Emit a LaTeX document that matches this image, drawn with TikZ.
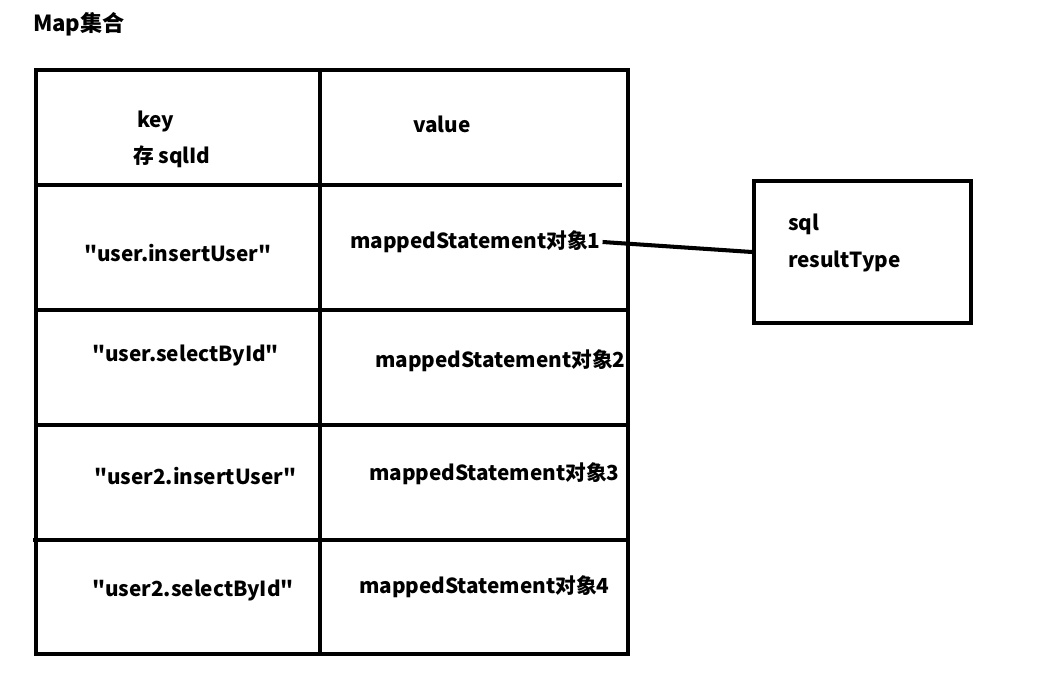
\documentclass[tikz,border=0pt]{standalone}
\usepackage{fontspec}
\setmainfont{Noto Sans CJK SC}[Ligatures=TeXOff]
\usepackage{tikz}
\usetikzlibrary{calc}

\begin{document}
\begin{tikzpicture}[x=0.02cm, y=-0.02cm,
    line width=2.3pt,
    txt/.style={font=\bfseries\fontsize{11.8}{14}\selectfont, inner sep=0pt, anchor=west}]
    % Fix the page size
    \useasboundingbox (0,0) rectangle (1063,675);

    % Define table parameters
    \pgfmathsetmacro{\xl}{36}    % left edge
    \pgfmathsetmacro{\xm}{320}   % column divider
    \pgfmathsetmacro{\xr}{628}   % right edge

    % Title
    \node[txt, font=\bfseries\fontsize{12.6}{15}\selectfont] (title) at (31,24) {Map集合};

    % Draw table frame and rows
    \draw (\xl,70) rectangle (\xr,654);
    \draw (\xm,70) -- (\xm,654);
    \draw (\xl,185) -- (622,185);
    \foreach \y in {310,425} {
        \draw (\xl,\y) -- (\xr,\y);
    }
    \draw (33,540) -- (\xr,540);

    % Header cells
    \node[txt] (key) at (135,121) {key};
    \node[txt] (keynote) at (131,157) {存 sqlId};
    \node[txt] (value) at (411,124) {value};

    % Key cells
    \node[txt] (k1) at (82,253) {"user.insertUser"};
    \node[txt] (k2) at (90,355) {"user.selectById"};
    \node[txt] (k3) at (92,476) {"user2.insertUser"};
    \node[txt] (k4) at (90,590) {"user2.selectById"};

    % Value cells
    \node[txt] (m1) at (348,242) {mappedStatement对象1};
    \node[txt] (m2) at (373,361) {mappedStatement对象2};
    \node[txt] (m3) at (367,474) {mappedStatement对象3};
    \node[txt] (m4) at (357,587) {mappedStatement对象4};

    % Object box
    \node[draw, minimum width=217*0.02cm, minimum height=142*0.02cm,
          inner sep=0pt] (obj) at (862.5,252) {};
    \node[txt] (sql) at (786,224) {sql};
    \node[txt] (rtype) at (786,261) {resultType};

    % Connect value to object
    \draw (m1.east) -- (obj.west);
\end{tikzpicture}
\end{document}
